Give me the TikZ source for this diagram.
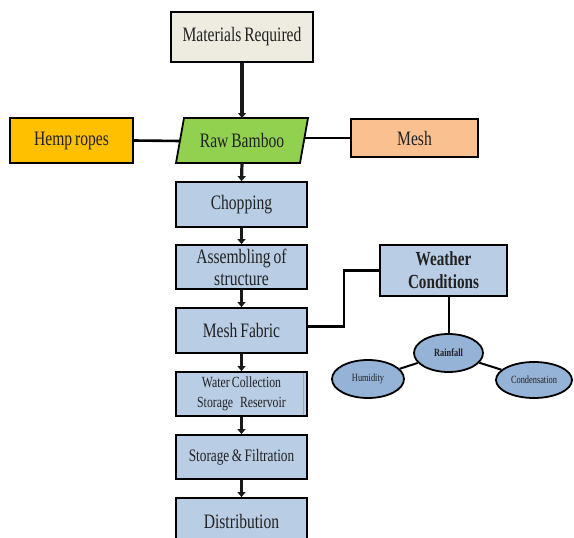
\documentclass[tikz,border=0pt]{standalone}
\usepackage{fontspec}
\setmainfont{Liberation Serif}[FakeStretch=0.76,WordSpace=0.75]
\usetikzlibrary{arrows.meta,shapes.geometric}
\definecolor{boxblue}{HTML}{B9CDE5}
\definecolor{ovalblue}{HTML}{95B3D7}
\definecolor{matfill}{HTML}{EEECE1}
\definecolor{hempfill}{HTML}{FFC000}
\definecolor{bamboofill}{HTML}{92D050}
\definecolor{meshfill}{HTML}{FAC090}
\definecolor{txt}{HTML}{222222}
\begin{document}
\begin{tikzpicture}[x=1pt,y=-1pt,
  box/.style={draw=black,line width=1.8pt,fill=boxblue,minimum width=131pt,minimum height=45pt,
    inner sep=0pt,align=center,font=\fontsize{20.5}{22}\selectfont,text=txt},
  flow/.style={line width=3.2pt,draw=black!90,-{Triangle[width=8pt,length=5pt]}},
  link/.style={line width=2.6pt,draw=black},
  oval/.style={ellipse,draw=black,line width=1.8pt,fill=ovalblue,inner sep=0pt,text=txt}]
\useasboundingbox (0,0) rectangle (574,538);
\clip (0,0) rectangle (574,538);
% top row
\node[box,fill=matfill,minimum width=142pt,minimum height=50pt] (mat) at (242,37) {Materials Required};
\coordinate (rbBL) at (176,163);
\coordinate (rbTL) at (184,118);
\coordinate (rbTR) at (308,118);
\coordinate (rbBR) at (300,163);
\draw[line width=1.8pt,fill=bamboofill] (rbBL) -- (rbTL) -- (rbTR) -- (rbBR) -- cycle;
\node[inner sep=0pt,font=\fontsize{20.5}{22}\selectfont,text=txt] (rb) at (242,140.5) {Raw Bamboo};
\coordinate (rbL) at (180,141);
\coordinate (rbR) at (304.4,138);
\coordinate (rbTop) at (242,118);
\coordinate (rbBot) at (242,163);
\node[box,fill=hempfill,minimum width=123pt,minimum height=45pt] (hemp) at (71.5,140.5) {Hemp ropes};
\node[box,fill=meshfill,minimum width=127pt,minimum height=38pt] (mesh) at (414.5,138) {Mesh};
% column
\node[box] (chop) at (241.5,204.5) {Chopping};
\node[box,minimum height=44pt] (asm) at (241.5,267) {Assembling of\\structure};
\node[box] (fab) at (241.5,330.5) {Mesh Fabric};
\node[box,minimum height=44pt,font=\fontsize{15.5}{20}\selectfont] (wcs) at (241.5,394) {Water Collection\\Storage\hspace{0.3em} Reservoir};
\draw[gray!70,line width=1pt] (303,373) -- (303,415);
\node[box,minimum height=44pt,font=\fontsize{17.5}{20}\selectfont] (sf) at (241.5,457) {Storage \& Filtration};
\node[box,minimum height=46pt] (dist) at (241.5,521) {Distribution};
% weather
\node[box,minimum width=127pt,minimum height=51pt,font=\bfseries\fontsize{20}{23}\selectfont] (wc) at (443.5,270.5) {Weather\\Conditions};
\node[oval,minimum width=69pt,minimum height=38pt,font=\bfseries\fontsize{11}{12}\selectfont] (rain) at (448.5,353) {Rainfall};
\node[oval,minimum width=72pt,minimum height=38pt,font=\fontsize{11}{12}\selectfont] (hum) at (368,379) {Humidity};
\node[oval,minimum width=76pt,minimum height=36pt,font=\fontsize{11}{12}\selectfont] (cond) at (534,380) {Condensation};
% connectors
\draw[flow] (mat.south) -- (rbTop);
\draw[link] (hemp.east) -- (rbL);
\draw[link] (rbR) -- (mesh.west);
\draw[flow] (rbBot) -- (chop.north);
\draw[flow] (chop.south) -- (asm.north);
\draw[flow] (asm.south) -- (fab.north);
\draw[flow] (fab.south) -- (wcs.north);
\draw[flow] (wcs.south) -- (sf.north);
\draw[flow] (sf.south) -- (dist.north);
\draw[link,line width=2.4pt] ([yshift=4pt]fab.east) -- ++(36,0) |- (wc.west);
\draw[link,line width=2pt] (wc.south -| rain.north) -- (rain.north);
\draw[link,line width=2pt] (rain) -- (hum);
\draw[link,line width=2pt] (rain) -- (cond);
\end{tikzpicture}
\end{document}
